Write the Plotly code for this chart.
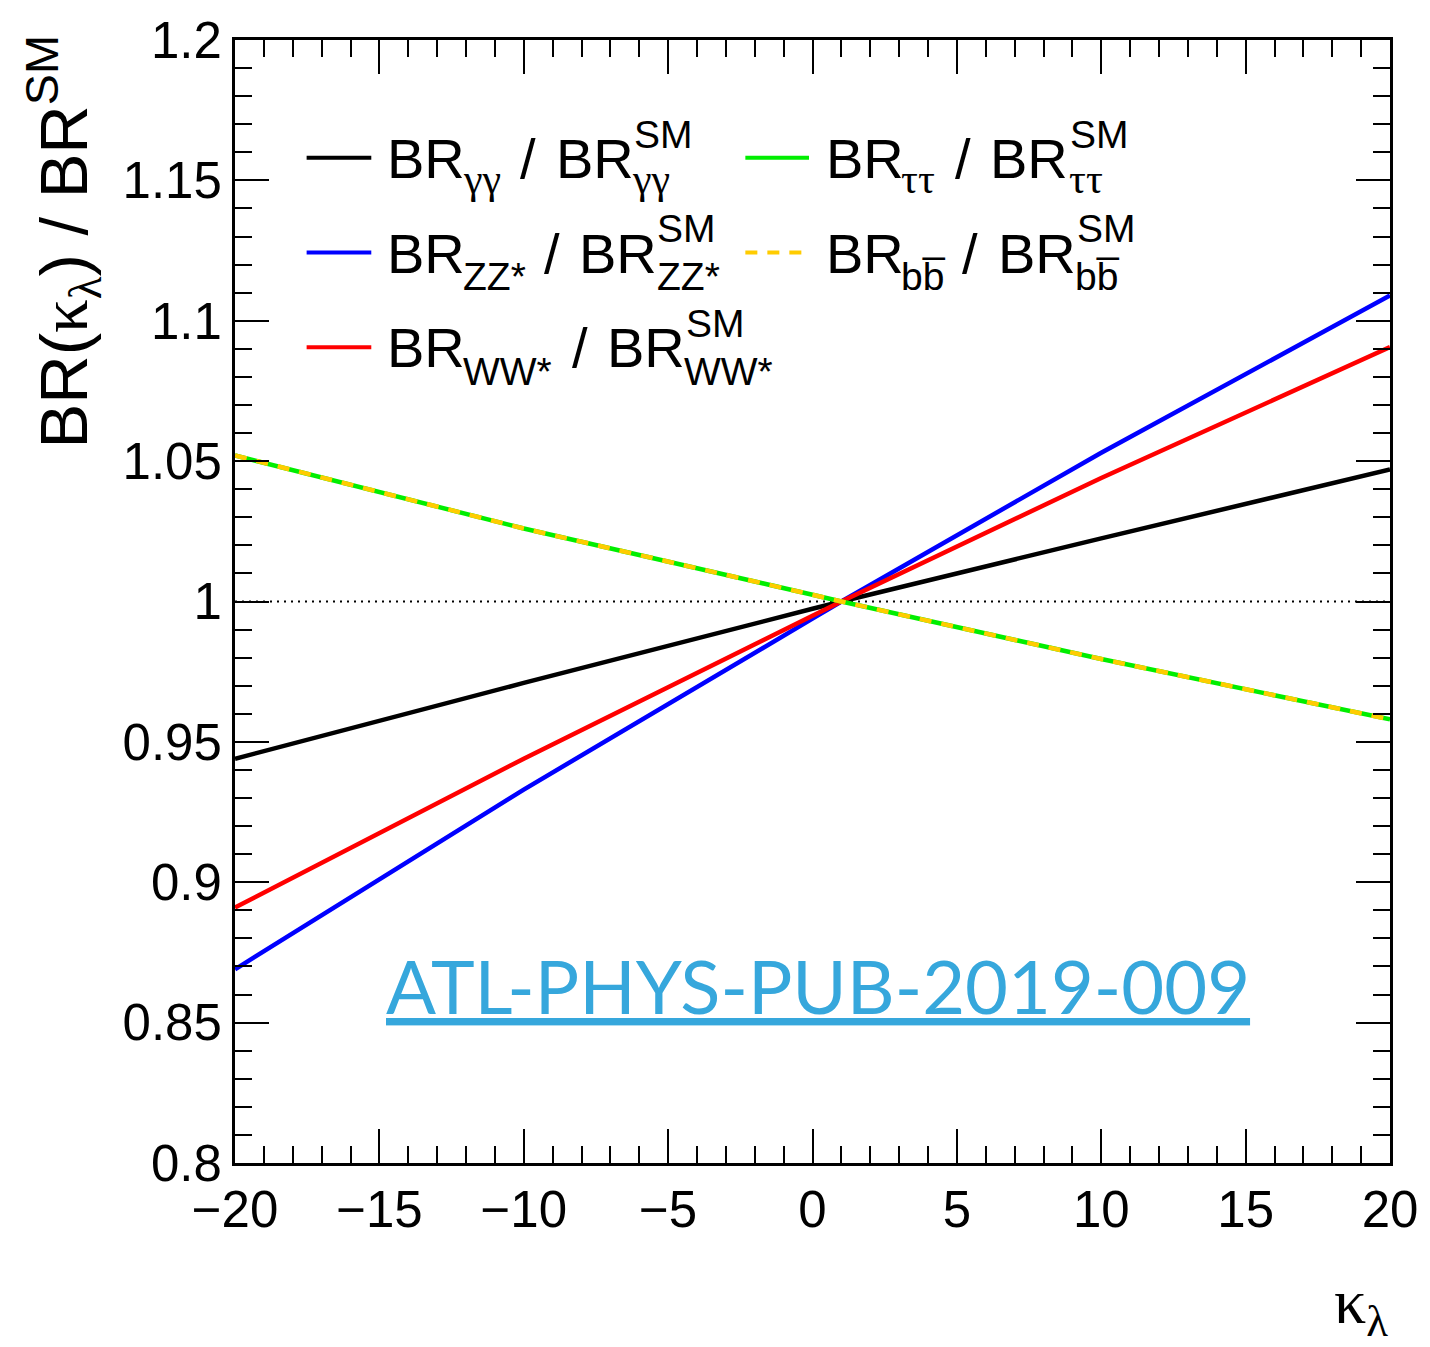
import plotly.graph_objects as go

# kappa_lambda sample points and BR(kappa_lambda)/BR_SM for each decay channel
kappa = [-20, -10, 0, 1, 10, 20]
br_gamgam = [0.944, 0.971, 0.9974, 1.0, 1.0225, 1.047]
br_zz = [0.869, 0.933, 0.9939, 1.0, 1.053, 1.109]
br_ww = [0.891, 0.944, 0.9949, 1.0, 1.044, 1.0906]
br_tautau = [1.052, 1.026, 1.0024, 1.0, 0.9795, 0.958]
br_bb = [1.052, 1.026, 1.0024, 1.0, 0.9795, 0.958]

sm_ref_x = [-20, 20]
sm_ref_y = [1.0, 1.0]

x_tickvals = [-20, -15, -10, -5, 0, 5, 10, 15, 20]
x_ticktext = ["\u221220", "\u221215", "\u221210", "\u22125", "0", "5", "10", "15", "20"]
y_tickvals = [0.8, 0.85, 0.9, 0.95, 1.0, 1.05, 1.1, 1.15, 1.2]
y_ticktext = ["0.8", "0.85", "0.9", "0.95", "1", "1.05", "1.1", "1.15", "1.2"]

# legend entries: channel subscripts
legend_channels = ["\u03b3\u03b3", "ZZ*", "WW*", "\u03c4\u03c4", "bb\u0305"]
greek_channels = {"\u03b3\u03b3", "\u03c4\u03c4"}

W, H = 1430, 1347
L, R, T, B = 235, 34, 37, 184
PW, PH = W - L - R, H - T - B

SANS = "Liberation Sans, Arial, Helvetica, sans-serif"
SERIF = "Liberation Serif, Times New Roman, serif"


def px(x):
    return (x - L) / PW


def py(y):
    return (H - B - y) / PH


GREEN = "#00ee00"
GOLD = "#ffcc00"
LW = 4.5

fig = go.Figure()

fig.add_trace(go.Scatter(x=sm_ref_x, y=sm_ref_y, mode="lines",
                         line=dict(color="black", width=2, dash="2px,5px"),
                         showlegend=False, hoverinfo="skip"))
fig.add_trace(go.Scatter(x=kappa, y=br_gamgam, mode="lines",
                         line=dict(color="black", width=LW), showlegend=False))
fig.add_trace(go.Scatter(x=kappa, y=br_zz, mode="lines",
                         line=dict(color="#0000ff", width=LW), showlegend=False))
fig.add_trace(go.Scatter(x=kappa, y=br_ww, mode="lines",
                         line=dict(color="#ff0000", width=LW), showlegend=False))
fig.add_trace(go.Scatter(x=kappa, y=br_tautau, mode="lines",
                         line=dict(color=GREEN, width=LW), showlegend=False))
fig.add_trace(go.Scatter(x=kappa, y=br_bb, mode="lines",
                         line=dict(color=GOLD, width=LW, dash="12px,10px"),
                         showlegend=False))

# --- hand-built two-column legend -------------------------------------
MAIN, SMALL = 56, 39
legend_layout = [
    dict(line=(307, 372, 155), color="black", dash=None, base=175,
         br1=387, sub1=463, slash=520, br2=557, sub2=633, sm=635),
    dict(line=(307, 372, 250), color="#0000ff", dash=None, base=270,
         br1=387, sub1=463, slash=545, br2=580, sub2=658, sm=658),
    dict(line=(307, 372, 345), color="#ff0000", dash=None, base=365,
         br1=387, sub1=463, slash=573, br2=608, sub2=685, sm=687),
    dict(line=(748, 812, 155), color=GREEN, dash=None, base=175,
         br1=828, sub1=903, slash=958, br2=993, sub2=1072, sm=1073),
    dict(line=(748, 812, 250), color=GOLD, dash="12px,10px", base=270,
         br1=828, sub1=903, slash=965, br2=1001, sub2=1078, sm=1080),
]

annotations = []


def text_at(txt, x_left, baseline, size, family=SANS, color="black"):
    # centre of the text box sits roughly 0.35 em above the baseline
    annotations.append(dict(
        text=txt, xref="paper", yref="paper", x=px(x_left), y=py(baseline - 0.3465 * size),
        xanchor="left", yanchor="middle", showarrow=False,
        font=dict(family=family, size=size, color=color), borderpad=0))


shapes = []
for chan, spec in zip(legend_channels, legend_layout):
    x0, x1, yl = spec["line"]
    shapes.append(dict(type="line", xref="paper", yref="paper",
                       x0=px(x0), x1=px(x1), y0=py(yl), y1=py(yl),
                       line=dict(color=spec["color"], width=4,
                                 dash=spec["dash"] or "solid")))
    b = spec["base"]
    sub_font = SERIF if chan in greek_channels else SANS
    sub_size = 42 if chan in greek_channels else SMALL
    sub_drop = 16 if chan in greek_channels else 18
    text_at("BR", spec["br1"], b, MAIN)
    text_at(chan, spec["sub1"], b + sub_drop, sub_size, family=sub_font)
    text_at("/", spec["slash"], b, MAIN)
    text_at("BR", spec["br2"], b, MAIN)
    text_at(chan, spec["sub2"], b + sub_drop, sub_size, family=sub_font)
    text_at("SM", spec["sm"], b - 30, SMALL)

# y-axis title
annotations.append(dict(
    text=("BR(<span style='font-family:Liberation Serif'>\u03ba</span>"
          "<sub><span style='font-family:Liberation Serif'>\u03bb</span></sub>) / BR<sup>SM</sup>"),
    xref="paper", yref="paper", x=px(62), y=py(30), xanchor="center", yanchor="top",
    textangle=-90, showarrow=False, font=dict(family=SANS, size=67, color="black")))

# x-axis title
annotations.append(dict(
    text="\u03ba<sub>\u03bb</sub>", xref="paper", yref="paper",
    x=px(1396), y=py(1306), xanchor="right", yanchor="middle", showarrow=False,
    font=dict(family=SERIF, size=64, color="black")))

# publication reference
annotations.append(dict(
    text="ATL-PHYS-PUB-2019-009", xref="paper", yref="paper",
    x=px(385), y=py(1014 - 0.387 * 74), xanchor="left", yanchor="middle", showarrow=False,
    font=dict(family="Lato, sans-serif", size=74, color="#36a7dc", lineposition="under")))

axis_common = dict(
    showline=True, linewidth=3, linecolor="black", mirror="ticks",
    ticks="inside", ticklen=34, tickwidth=2, tickcolor="black",
    showgrid=False, zeroline=False,
    tickfont=dict(family=SANS, size=51, color="black"),
)

fig.update_layout(
    width=W, height=H,
    margin=dict(l=L, r=R, t=T, b=B),
    paper_bgcolor="white", plot_bgcolor="white",
    xaxis=dict(range=[-20, 20], tickmode="array", tickvals=x_tickvals, ticktext=x_ticktext,
               minor=dict(dtick=1, tick0=0, ticks="inside", ticklen=17, tickwidth=2,
                          tickcolor="black", showgrid=False),
               **axis_common),
    yaxis=dict(range=[0.8, 1.2], tickmode="array", tickvals=y_tickvals, ticktext=y_ticktext,
               minor=dict(dtick=0.01, tick0=0.8, ticks="inside", ticklen=17, tickwidth=2,
                          tickcolor="black", showgrid=False),
               **axis_common),
    shapes=shapes,
    annotations=annotations,
    showlegend=False,
)

fig.write_html("out.html")
